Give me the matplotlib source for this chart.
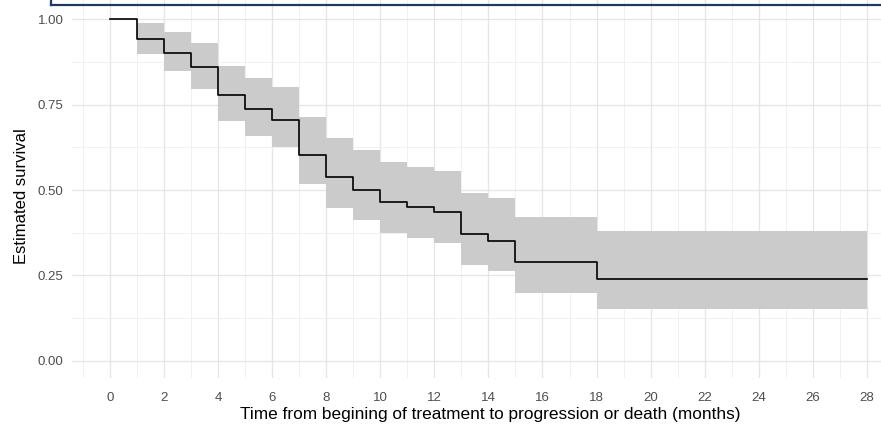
import numpy as np
import matplotlib.pyplot as plt
from matplotlib.lines import Line2D

plt.rcParams['font.family'] = ['Liberation Sans', 'DejaVu Sans']

# step start times (months), last value is the end of follow-up
times = [0, 1, 2, 3, 4, 5, 6, 7, 8, 9, 10, 11, 12, 13, 14, 15, 18, 28]
surv  = [1.00, 0.941, 0.900, 0.859, 0.778, 0.736, 0.705, 0.603, 0.537, 0.500,
         0.464, 0.449, 0.437, 0.370, 0.351, 0.289, 0.239, 0.239]
upper = [1.00, 0.990, 0.961, 0.931, 0.864, 0.829, 0.802, 0.713, 0.651, 0.617,
         0.581, 0.566, 0.556, 0.492, 0.477, 0.422, 0.380, 0.380]
lower = [1.00, 0.898, 0.848, 0.795, 0.703, 0.657, 0.625, 0.518, 0.448, 0.412,
         0.373, 0.361, 0.346, 0.281, 0.263, 0.200, 0.152, 0.152]
xticks = list(range(0, 29, 2))
yticks = [0.00, 0.25, 0.50, 0.75, 1.00]

fig = plt.figure(figsize=(8.81, 4.25), dpi=100)
ax = fig.add_axes([72/881, 47/425, 1 - 72/881, 1 - 47/425])

ax.fill_between(times, lower, upper, step='post', color='#CBCBCB', lw=0, zorder=2)
ax.step(times, surv, where='post', color='black', lw=1.2, zorder=3)

ax.set_xlim(-1.4, 28.52)
ax.set_ylim(-0.05, 1.056)
ax.set_xticks(xticks)
ax.set_xticks(np.arange(-1, 29, 2), minor=True)
ax.set_yticks(yticks)
ax.set_yticks(np.arange(0.125, 1.0, 0.25), minor=True)
ax.set_yticklabels(['%.2f' % v for v in yticks])

ax.grid(which='major', color='#E6E6E6', lw=1.0, zorder=0)
ax.grid(which='minor', color='#EFEFEF', lw=0.6, zorder=0)
ax.set_axisbelow(True)
for s in ax.spines.values():
    s.set_visible(False)
ax.tick_params(which='both', length=0, labelsize=9.5, colors='#4D4D4D', pad=6)
ax.tick_params(axis='x', pad=10)

ax.set_xlabel('Time from begining of treatment to progression or death (months)',
              fontsize=12.4, color='black')
ax.set_ylabel('Estimated survival', fontsize=12, color='black')
ax.xaxis.set_label_coords((490 - 72) / (881 - 72), -(407 - 378) / 378)
ax.xaxis.label.set_va('top')
ax.yaxis.set_label_coords(-(72 - 22) / (881 - 72), 0.48)
ax.yaxis.label.set_va('center')

# dark frame edge at the top of the image
fig.add_artist(Line2D([51/881, 1], [1 - 5/425, 1 - 5/425], color='#1F3864', lw=1.6))
fig.add_artist(Line2D([51/881, 51/881], [1 - 5/425, 1.0], color='#1F3864', lw=1.6))

fig.savefig('out.png', dpi=100)
